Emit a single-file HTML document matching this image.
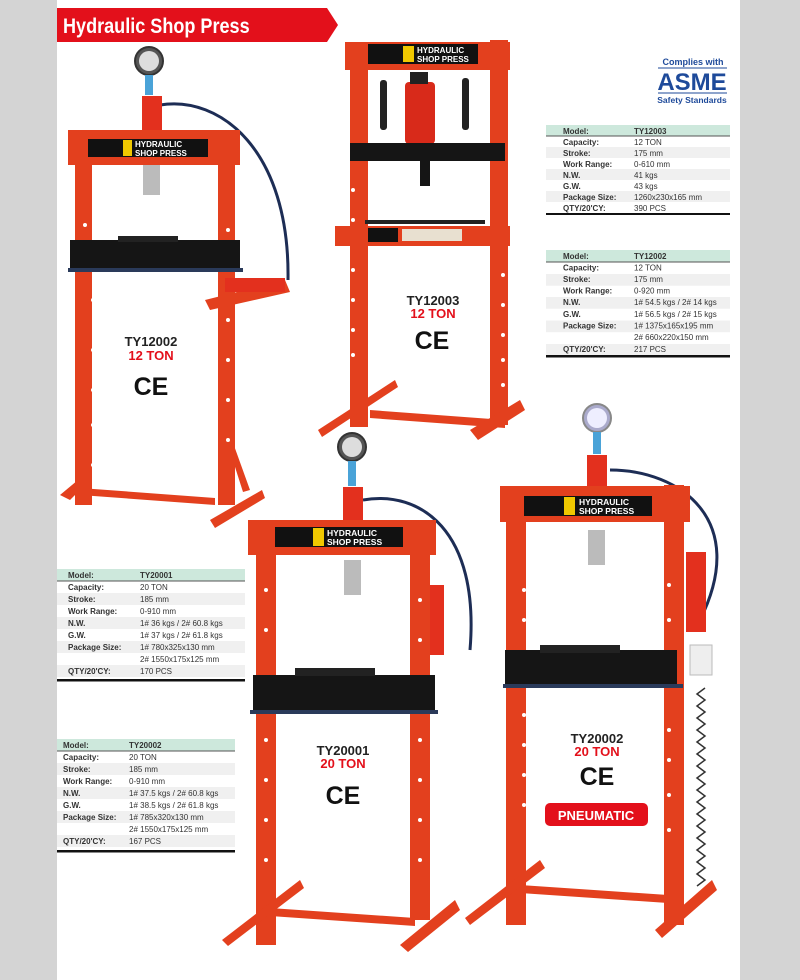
<!DOCTYPE html>
<html><head><meta charset="utf-8"><style>
html,body{margin:0;padding:0;background:#d4d4d4;}
svg{display:block}
text{font-family:"Liberation Sans",Arial,sans-serif}
</style></head><body>
<svg width="800" height="980" viewBox="0 0 800 980" xmlns="http://www.w3.org/2000/svg">
<rect x="0" y="0" width="800" height="980" fill="#d4d4d4"/>
<rect x="57" y="0" width="683" height="980" fill="#ffffff"/>
<!-- header banner -->
<polygon points="57,8 327,8 338,25 327,42 57,42" fill="#e3101b"/>
<text x="63" y="33" font-size="21" font-weight="bold" fill="#fff" transform="scale(0.86,1)" style="transform-origin:63px 33px">Hydraulic Shop Press</text>

<!-- ASME -->
<text x="693" y="65" font-size="9" font-weight="bold" fill="#1e4a9a" text-anchor="middle">Complies with</text>
<line x1="658" y1="68" x2="727" y2="68" stroke="#1e4a9a" stroke-width="1"/>
<text x="692" y="90" font-size="24" font-weight="bold" fill="#1e4a9a" text-anchor="middle">ASME</text>
<line x1="658" y1="93" x2="727" y2="93" stroke="#1e4a9a" stroke-width="1"/>
<text x="692" y="103" font-size="8.5" font-weight="bold" fill="#1e4a9a" text-anchor="middle">Safety Standards</text>

<!-- ========== PRESS 1 TY12002 ========== -->
<g>
<path d="M160,105 C220,95 290,150 288,280" fill="none" stroke="#1d2d55" stroke-width="3"/>
<circle cx="149" cy="61" r="14" fill="#555" stroke="#333" stroke-width="2"/>
<circle cx="149" cy="61" r="10" fill="#ddd"/>
<rect x="145" y="75" width="8" height="20" fill="#4aa3d8"/>
<rect x="142" y="96" width="20" height="36" fill="#e3301e"/>
<rect x="75" y="160" width="17" height="345" fill="#e3401e"/>
<rect x="218" y="160" width="17" height="345" fill="#e3401e"/>
<rect x="68" y="130" width="172" height="35" fill="#e3401e"/>
<rect x="88" y="139" width="120" height="18" fill="#111"/>
<rect x="123" y="140" width="9" height="16" fill="#f0c800"/>
<text x="135" y="147" font-size="8" font-weight="bold" fill="#fff">HYDRAULIC</text>
<text x="135" y="156" font-size="8" font-weight="bold" fill="#fff">SHOP PRESS</text>
<rect x="143" y="165" width="17" height="30" fill="#bbb"/>
<rect x="70" y="240" width="170" height="30" fill="#151515"/>
<rect x="118" y="236" width="60" height="6" fill="#222"/>
<rect x="68" y="268" width="175" height="4" fill="#2a3a5a"/>
<polygon points="205,300 285,280 290,292 210,310" fill="#e3401e"/>
<rect x="225" y="278" width="60" height="14" fill="#e3301e"/>
<g fill="#fff"><circle cx="85" cy="225" r="2"/><circle cx="228" cy="230" r="2"/><circle cx="228" cy="320" r="2"/><circle cx="228" cy="360" r="2"/><circle cx="228" cy="400" r="2"/><circle cx="228" cy="440" r="2"/><circle cx="93" cy="300" r="2"/><circle cx="93" cy="350" r="2"/><circle cx="93" cy="390" r="2"/><circle cx="93" cy="425" r="2"/><circle cx="93" cy="465" r="2"/></g>
<polygon points="60,495 78,480 82,440 88,440 85,485 70,500" fill="#e3401e"/>
<polygon points="80,488 215,498 215,505 80,495" fill="#e3401e"/>
<polygon points="210,520 262,490 265,498 215,528" fill="#e3401e"/>
<polygon points="232,440 250,490 243,492 228,445" fill="#e3401e"/>
<text x="151" y="346" font-size="13" font-weight="bold" fill="#222" text-anchor="middle">TY12002</text>
<text x="151" y="360" font-size="13" font-weight="bold" fill="#e3101b" text-anchor="middle">12 TON</text>
<text x="151" y="395" font-size="25" font-weight="bold" fill="#111" text-anchor="middle">CE</text>
</g>

<!-- ========== PRESS 2 TY12003 ========== -->
<g>
<rect x="350" y="62" width="18" height="365" fill="#e3401e"/>
<rect x="490" y="40" width="18" height="385" fill="#e3401e"/>
<rect x="345" y="42" width="165" height="28" fill="#e3401e"/>
<rect x="368" y="44" width="110" height="20" fill="#111"/>
<rect x="403" y="46" width="11" height="16" fill="#f0c800"/>
<text x="417" y="53" font-size="8" font-weight="bold" fill="#fff">HYDRAULIC</text>
<text x="417" y="62" font-size="8" font-weight="bold" fill="#fff">SHOP PRESS</text>
<rect x="380" y="80" width="7" height="50" rx="3" fill="#222"/>
<rect x="462" y="78" width="7" height="52" rx="3" fill="#222"/>
<rect x="405" y="82" width="30" height="62" rx="4" fill="#d82a1a"/>
<rect x="410" y="72" width="18" height="12" fill="#222"/>
<rect x="350" y="143" width="155" height="18" fill="#151515"/>
<rect x="420" y="160" width="10" height="26" fill="#151515"/>
<rect x="335" y="226" width="175" height="20" fill="#e3401e"/>
<rect x="365" y="220" width="120" height="4" fill="#222"/>
<rect x="368" y="228" width="30" height="14" fill="#111"/>
<rect x="402" y="229" width="60" height="12" fill="#e8e0d0"/>
<g fill="#fff"><circle cx="353" cy="190" r="2"/><circle cx="353" cy="220" r="2"/><circle cx="353" cy="270" r="2"/><circle cx="353" cy="300" r="2"/><circle cx="353" cy="330" r="2"/><circle cx="353" cy="355" r="2"/><circle cx="503" cy="275" r="2"/><circle cx="503" cy="305" r="2"/><circle cx="503" cy="335" r="2"/><circle cx="503" cy="360" r="2"/><circle cx="503" cy="385" r="2"/></g>
<polygon points="318,430 395,380 398,387 322,437" fill="#e3401e"/>
<polygon points="370,410 505,420 505,428 370,418" fill="#e3401e"/>
<polygon points="470,430 520,400 525,410 478,440" fill="#e3401e"/>
<text x="433" y="305" font-size="13" font-weight="bold" fill="#222" text-anchor="middle">TY12003</text>
<text x="433" y="318" font-size="13" font-weight="bold" fill="#e3101b" text-anchor="middle">12 TON</text>
<text x="432" y="349" font-size="25" font-weight="bold" fill="#111" text-anchor="middle">CE</text>
</g>

<!-- ========== PRESS 3 TY20001 ========== -->
<g>
<path d="M363,500 C420,490 480,530 470,650" fill="none" stroke="#1d2d55" stroke-width="3"/>
<circle cx="352" cy="447" r="14" fill="#555" stroke="#333" stroke-width="2"/>
<circle cx="352" cy="447" r="10" fill="#ddd"/>
<rect x="348" y="461" width="8" height="25" fill="#4aa3d8"/>
<rect x="343" y="487" width="20" height="36" fill="#e3301e"/>
<rect x="256" y="550" width="20" height="395" fill="#e3401e"/>
<rect x="410" y="520" width="20" height="400" fill="#e3401e"/>
<rect x="248" y="520" width="188" height="35" fill="#e3401e"/>
<rect x="275" y="527" width="128" height="20" fill="#111"/>
<rect x="313" y="528" width="11" height="18" fill="#f0c800"/>
<text x="327" y="536" font-size="8.5" font-weight="bold" fill="#fff">HYDRAULIC</text>
<text x="327" y="545" font-size="8.5" font-weight="bold" fill="#fff">SHOP PRESS</text>
<rect x="344" y="560" width="17" height="35" fill="#bbb"/>
<rect x="430" y="585" width="14" height="70" fill="#e3301e"/>
<rect x="253" y="675" width="182" height="38" fill="#151515"/>
<rect x="295" y="668" width="80" height="8" fill="#222"/>
<rect x="250" y="710" width="188" height="4" fill="#2a3a5a"/>
<g fill="#fff"><circle cx="266" cy="590" r="2"/><circle cx="266" cy="630" r="2"/><circle cx="266" cy="740" r="2"/><circle cx="266" cy="780" r="2"/><circle cx="266" cy="820" r="2"/><circle cx="266" cy="860" r="2"/><circle cx="420" cy="600" r="2"/><circle cx="420" cy="640" r="2"/><circle cx="420" cy="740" r="2"/><circle cx="420" cy="780" r="2"/><circle cx="420" cy="820" r="2"/><circle cx="420" cy="860" r="2"/></g>
<polygon points="222,940 300,880 304,888 228,946" fill="#e3401e"/>
<polygon points="270,908 415,918 415,926 270,916" fill="#e3401e"/>
<polygon points="400,945 455,900 460,910 408,952" fill="#e3401e"/>
<text x="343" y="755" font-size="13" font-weight="bold" fill="#222" text-anchor="middle">TY20001</text>
<text x="343" y="768" font-size="13" font-weight="bold" fill="#e3101b" text-anchor="middle">20 TON</text>
<text x="343" y="804" font-size="25" font-weight="bold" fill="#111" text-anchor="middle">CE</text>
</g>

<!-- ========== PRESS 4 TY20002 ========== -->
<g>
<path d="M610,470 C680,470 750,520 700,620" fill="none" stroke="#1d2d55" stroke-width="3"/>
<circle cx="597" cy="418" r="14" fill="#aac" stroke="#888" stroke-width="2"/>
<circle cx="597" cy="418" r="10" fill="#eef"/>
<rect x="593" y="432" width="8" height="22" fill="#4aa3d8"/>
<rect x="587" y="455" width="20" height="34" fill="#e3301e"/>
<rect x="506" y="515" width="20" height="410" fill="#e3401e"/>
<rect x="664" y="485" width="20" height="440" fill="#e3401e"/>
<rect x="500" y="486" width="190" height="36" fill="#e3401e"/>
<rect x="524" y="496" width="128" height="20" fill="#111"/>
<rect x="564" y="497" width="11" height="18" fill="#f0c800"/>
<text x="579" y="505" font-size="8.5" font-weight="bold" fill="#fff">HYDRAULIC</text>
<text x="579" y="514" font-size="8.5" font-weight="bold" fill="#fff">SHOP PRESS</text>
<rect x="588" y="530" width="17" height="35" fill="#bbb"/>
<rect x="686" y="552" width="20" height="80" fill="#e3301e"/>
<rect x="690" y="645" width="22" height="30" fill="#eee" stroke="#bbb"/>
<path d="M705,688 l-8,6 l8,6 l-8,6 l8,6 l-8,6 l8,6 l-8,6 l8,6 l-8,6 l8,6 l-8,6 l8,6 l-8,6 l8,6 l-8,6 l8,6 l-8,6 l8,6 l-8,6 l8,6 l-8,6 l8,6 l-8,6 l8,6 l-8,6 l8,6 l-8,6 l8,6 l-8,6 l8,6 l-8,6 l8,6 l-8,6" fill="none" stroke="#333" stroke-width="1.5"/>
<rect x="505" y="650" width="172" height="38" fill="#151515"/>
<rect x="540" y="645" width="80" height="8" fill="#222"/>
<rect x="503" y="684" width="180" height="4" fill="#2a3a5a"/>
<g fill="#fff"><circle cx="524" cy="590" r="2"/><circle cx="524" cy="620" r="2"/><circle cx="524" cy="715" r="2"/><circle cx="524" cy="745" r="2"/><circle cx="524" cy="775" r="2"/><circle cx="524" cy="805" r="2"/><circle cx="669" cy="585" r="2"/><circle cx="669" cy="620" r="2"/><circle cx="669" cy="730" r="2"/><circle cx="669" cy="760" r="2"/><circle cx="669" cy="795" r="2"/><circle cx="669" cy="830" r="2"/></g>
<polygon points="465,918 540,860 545,868 470,925" fill="#e3401e"/>
<polygon points="520,885 668,895 668,903 520,893" fill="#e3401e"/>
<polygon points="655,930 712,880 717,890 662,938" fill="#e3401e"/>
<text x="597" y="743" font-size="13" font-weight="bold" fill="#222" text-anchor="middle">TY20002</text>
<text x="597" y="756" font-size="13" font-weight="bold" fill="#e3101b" text-anchor="middle">20 TON</text>
<text x="597" y="785" font-size="25" font-weight="bold" fill="#111" text-anchor="middle">CE</text>
<rect x="545" y="803" width="103" height="23" rx="5" fill="#e3101b"/>
<text x="596" y="820" font-size="13" font-weight="bold" fill="#fff" text-anchor="middle">PNEUMATIC</text>
</g>

<!-- ========== TABLES ========== -->
<g font-size="8" fill="#333">
<!-- Table TY12003 -->
<rect x="546" y="125" width="184" height="11" fill="#cde8dc"/>
<line x1="546" y1="136" x2="730" y2="136" stroke="#555" stroke-width="1"/>
<rect x="546" y="147" width="184" height="11" fill="#f0f0f0"/>
<rect x="546" y="169" width="184" height="11" fill="#f0f0f0"/>
<rect x="546" y="191" width="184" height="11" fill="#f0f0f0"/>
<rect x="546" y="213" width="184" height="2" fill="#111"/>
<g font-weight="bold"><text x="563" y="134">Model:</text><text x="563" y="145">Capacity:</text><text x="563" y="156">Stroke:</text><text x="563" y="167">Work Range:</text><text x="563" y="178">N.W.</text><text x="563" y="189">G.W.</text><text x="563" y="200">Package Size:</text><text x="563" y="211">QTY/20'CY:</text></g>
<text x="634" y="134" font-weight="bold">TY12003</text><text x="634" y="145">12 TON</text><text x="634" y="156">175 mm</text><text x="634" y="167">0-610 mm</text><text x="634" y="178">41 kgs</text><text x="634" y="189">43 kgs</text><text x="634" y="200">1260x230x165 mm</text><text x="634" y="211">390 PCS</text>

<!-- Table TY12002 -->
<rect x="546" y="250" width="184" height="12" fill="#cde8dc"/>
<line x1="546" y1="262" x2="730" y2="262" stroke="#555" stroke-width="1"/>
<rect x="546" y="274" width="184" height="11.7" fill="#f0f0f0"/>
<rect x="546" y="297" width="184" height="11.7" fill="#f0f0f0"/>
<rect x="546" y="320.5" width="184" height="11.7" fill="#f0f0f0"/>
<rect x="546" y="344" width="184" height="11" fill="#f0f0f0"/>
<rect x="546" y="355" width="184" height="2.5" fill="#111"/>
<g font-weight="bold"><text x="563" y="259">Model:</text><text x="563" y="270.5">Capacity:</text><text x="563" y="282">Stroke:</text><text x="563" y="293.5">Work Range:</text><text x="563" y="305">N.W.</text><text x="563" y="317">G.W.</text><text x="563" y="328.5">Package Size:</text><text x="563" y="352">QTY/20'CY:</text></g>
<text x="634" y="259" font-weight="bold">TY12002</text><text x="634" y="270.5">12 TON</text><text x="634" y="282">175 mm</text><text x="634" y="293.5">0-920 mm</text><text x="634" y="305">1# 54.5 kgs / 2# 14 kgs</text><text x="634" y="317">1# 56.5 kgs / 2# 15 kgs</text><text x="634" y="328.5">1# 1375x165x195 mm</text><text x="634" y="340">2# 660x220x150 mm</text><text x="634" y="352">217 PCS</text>

<!-- Table TY20001 -->
<rect x="57" y="569" width="188" height="12" fill="#cde8dc"/>
<line x1="57" y1="581" x2="245" y2="581" stroke="#555" stroke-width="1"/>
<rect x="57" y="593" width="188" height="12" fill="#f0f0f0"/>
<rect x="57" y="617" width="188" height="12" fill="#f0f0f0"/>
<rect x="57" y="641" width="188" height="12" fill="#f0f0f0"/>
<rect x="57" y="665" width="188" height="12" fill="#f0f0f0"/>
<rect x="57" y="679" width="188" height="2.5" fill="#111"/>
<g font-weight="bold"><text x="68" y="578">Model:</text><text x="68" y="590">Capacity:</text><text x="68" y="602">Stroke:</text><text x="68" y="614">Work Range:</text><text x="68" y="626">N.W.</text><text x="68" y="638">G.W.</text><text x="68" y="650">Package Size:</text><text x="68" y="674">QTY/20'CY:</text></g>
<text x="140" y="578" font-weight="bold">TY20001</text><text x="140" y="590">20 TON</text><text x="140" y="602">185 mm</text><text x="140" y="614">0-910 mm</text><text x="140" y="626">1# 36 kgs / 2# 60.8 kgs</text><text x="140" y="638">1# 37 kgs / 2# 61.8 kgs</text><text x="140" y="650">1# 780x325x130 mm</text><text x="140" y="662">2# 1550x175x125 mm</text><text x="140" y="674">170 PCS</text>

<!-- Table TY20002 -->
<rect x="57" y="739" width="178" height="12" fill="#cde8dc"/>
<line x1="57" y1="751" x2="235" y2="751" stroke="#555" stroke-width="1"/>
<rect x="57" y="763" width="178" height="12" fill="#f0f0f0"/>
<rect x="57" y="787" width="178" height="12" fill="#f0f0f0"/>
<rect x="57" y="811" width="178" height="12" fill="#f0f0f0"/>
<rect x="57" y="835" width="178" height="12" fill="#f0f0f0"/>
<rect x="57" y="850" width="178" height="2.5" fill="#111"/>
<g font-weight="bold"><text x="63" y="748">Model:</text><text x="63" y="760">Capacity:</text><text x="63" y="772">Stroke:</text><text x="63" y="784">Work Range:</text><text x="63" y="796">N.W.</text><text x="63" y="808">G.W.</text><text x="63" y="820">Package Size:</text><text x="63" y="844">QTY/20'CY:</text></g>
<text x="129" y="748" font-weight="bold">TY20002</text><text x="129" y="760">20 TON</text><text x="129" y="772">185 mm</text><text x="129" y="784">0-910 mm</text><text x="129" y="796">1# 37.5 kgs / 2# 60.8 kgs</text><text x="129" y="808">1# 38.5 kgs / 2# 61.8 kgs</text><text x="129" y="820">1# 785x320x130 mm</text><text x="129" y="832">2# 1550x175x125 mm</text><text x="129" y="844">167 PCS</text>
</g>
</svg>
</body></html>
